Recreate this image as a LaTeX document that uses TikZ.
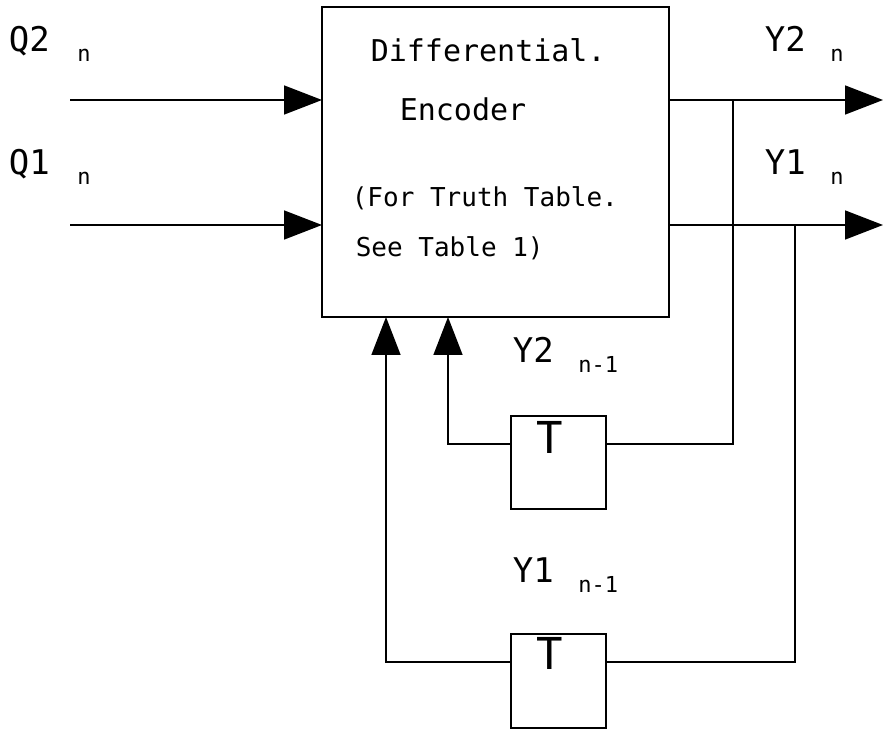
\documentclass[tikz,border=0pt]{standalone}
\usepackage{fontspec}
\setmonofont{DejaVu Sans Mono}
\usepackage{tikz}
\usetikzlibrary{positioning}
\usetikzlibrary{arrows.meta}
\tikzstyle{blk} = [rectangle,draw=black,line width=1.6pt,inner sep=0pt,outer sep=0pt]
\tikzstyle{txt} = [inner sep=0pt,anchor=base west,font=\ttfamily\fontsize{30}{36}\selectfont]
\tikzstyle{note} = [txt,font=\ttfamily\fontsize{26}{31}\selectfont]
\tikzstyle{sig} = [txt,font=\ttfamily\fontsize{34}{40}\selectfont]
\tikzstyle{idx} = [txt,font=\ttfamily\fontsize{22}{26}\selectfont]
\tikzstyle{dly} = [inner sep=0pt,anchor=base,font=\ttfamily\fontsize{44}{50}\selectfont]
\tikzset{>={Triangle[length=38pt,width=29pt]}}

\begin{document}
\begin{tikzpicture}[x=1pt,y=1pt,line width=1.6pt]
  \useasboundingbox (0,0) rectangle (883,729);

  % encoder block
  \node [blk,minimum width=347pt,minimum height=310pt] (enc) at (495.5,567) {};
  \node [txt] (enc1) at (370,667) {Differential.};
  \node [txt] (enc2) at (399,608) {Encoder};
  \node [note] (enc3) at (351,522) {(For Truth Table.};
  \node [note] (enc4) at (355,472) {See Table 1)};

  % delay blocks
  \node [blk,minimum width=95pt,minimum height=93pt] (t1) at (558.5,266.5) {};
  \node [dly] (t1l) at (550,276) {T};
  \node [blk,minimum width=95pt,minimum height=94pt] (t2) at (558.5,48) {};
  \node [dly] (t2l) at (550,60) {T};

  % inputs
  \node [sig] (q2) at (8,677) {Q2};
  \node [idx,below right=10pt and 26pt of q2.base east,anchor=base west] (q2n) {n};
  \node [sig] (q1) at (8,554) {Q1};
  \node [idx,below right=10pt and 26pt of q1.base east,anchor=base west] (q1n) {n};
  \coordinate (q2in) at (70,629);
  \coordinate (q1in) at (70,504);
  \draw [->] (q2in) -- (q2in -| enc.west);
  \draw [->] (q1in) -- (q1in -| enc.west);

  % outputs
  \node [sig] (y2) at (764,677) {Y2};
  \node [idx,below right=10pt and 23pt of y2.base east,anchor=base west] (y2n) {n};
  \node [sig] (y1) at (764,554) {Y1};
  \node [idx,below right=10pt and 23pt of y1.base east,anchor=base west] (y1n) {n};
  \coordinate (y2out) at (883,629);
  \coordinate (y1out) at (883,504);
  \draw [->] (enc.east |- y2out) -- (y2out);
  \draw [->] (enc.east |- y1out) -- (y1out);

  % feedback through the delays
  \coordinate (j2) at (733,629);
  \coordinate (j1) at (795,504);
  \draw (j2) |- ([yshift=-28pt]t1.north east);
  \draw (j1) |- ([yshift=-28pt]t2.north east);
  \draw [->] ([yshift=-28pt]t1.north west) -| ([xshift=126pt]enc.south west);
  \draw [->] ([yshift=-28pt]t2.north west) -| ([xshift=64pt]enc.south west);

  \node [sig] (y2d) at (512,366) {Y2};
  \node [idx,below right=10pt and 23pt of y2d.base east,anchor=base west] (y2dn) {n-1};
  \node [sig] (y1d) at (512,147) {Y1};
  \node [idx,below right=10pt and 23pt of y1d.base east,anchor=base west] (y1dn) {n-1};
\end{tikzpicture}
\end{document}
